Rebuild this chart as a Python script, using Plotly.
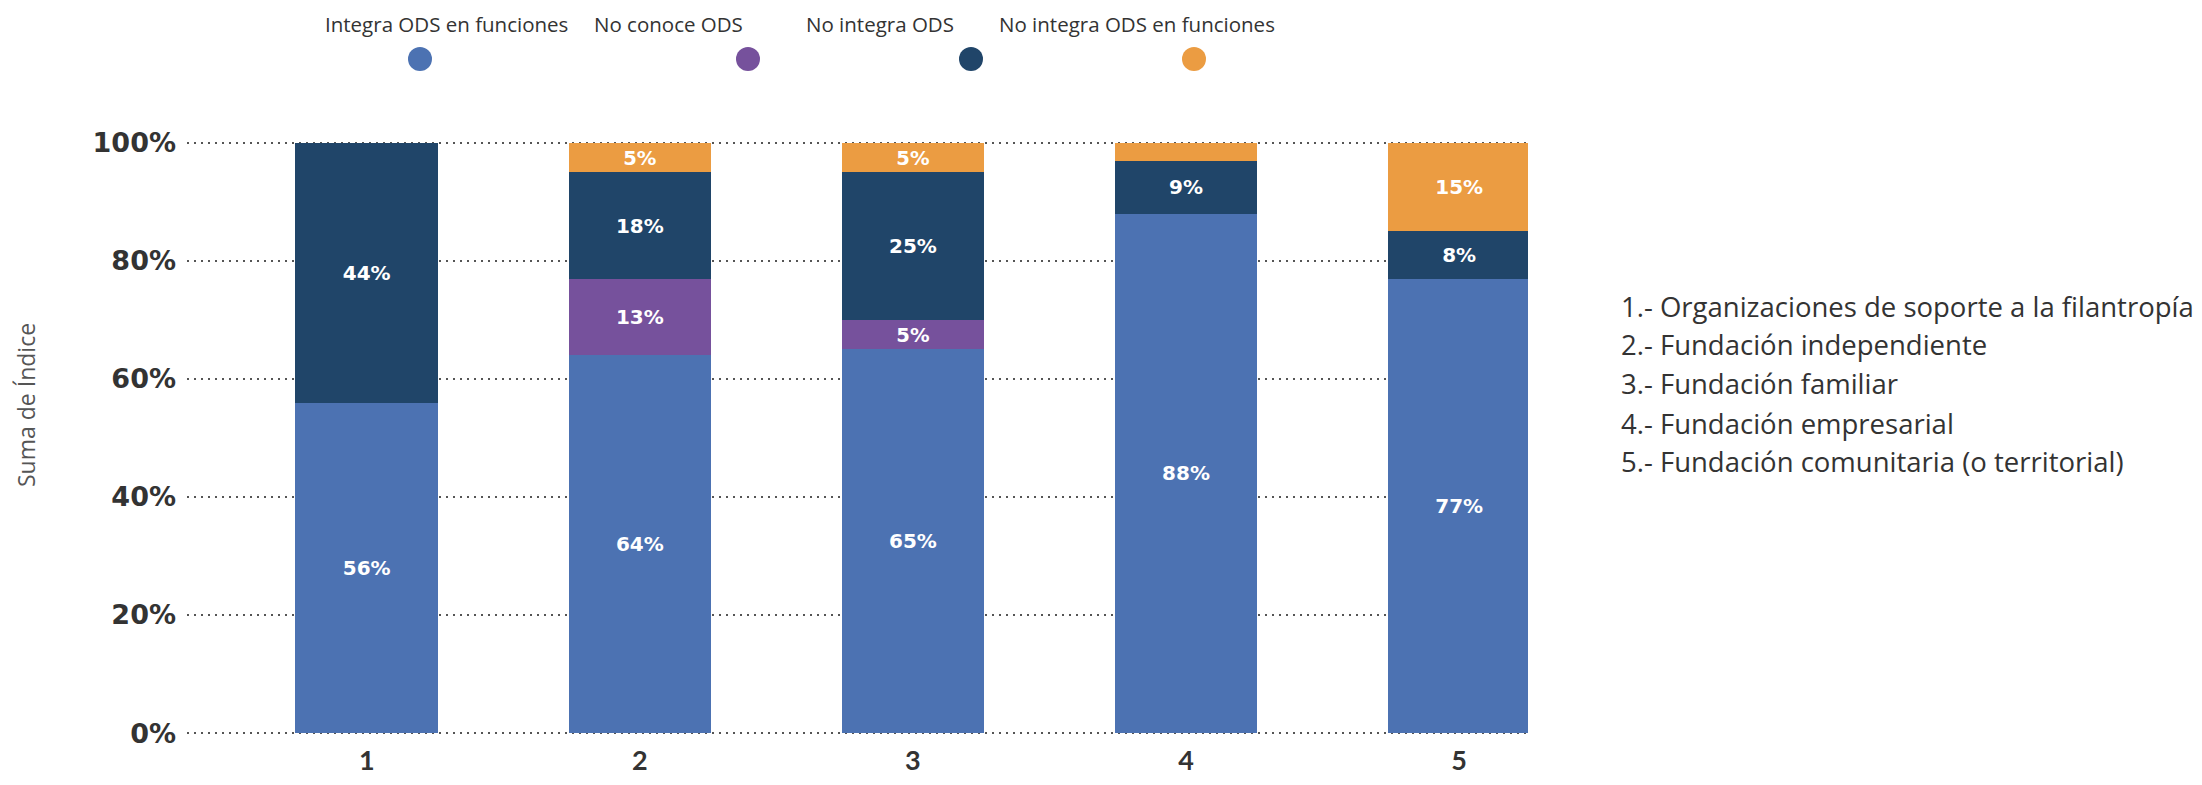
import plotly.graph_objects as go

categories = ["1", "2", "3", "4", "5"]
series_names = ["Integra ODS en funciones", "No conoce ODS", "No integra ODS", "No integra ODS en funciones"]
integra = [56, 64, 65, 88, 77]
no_conoce = [0, 13, 5, 0, 0]
no_integra = [44, 18, 25, 9, 8]
no_integra_func = [0, 5, 5, 3, 15]
series_values = [integra, no_conoce, no_integra, no_integra_func]
colors = ["#4C72B2", "#76519C", "#204569", "#EB9C42"]
y_ticks = [0, 20, 40, 60, 80, 100]
y_tick_labels = ["0%", "20%", "40%", "60%", "80%", "100%"]
category_names = [
    "1.- Organizaciones de soporte a la filantropía",
    "2.- Fundación independiente",
    "3.- Fundación familiar",
    "4.- Fundación empresarial",
    "5.- Fundación comunitaria (o territorial)",
]

OFF = 8  # default page body margin
W, H = 2202 - 2 * OFF, 785 - 2 * OFF
# plot area in page pixels
PL, PR, PT, PB = 187, 1528, 140, 736
L, R, T, B = PL - OFF, W - (PR - OFF), PT - OFF, H - (PB - OFF)
pw, ph = W - L - R, H - T - B


def px(xpage):
    return (xpage - OFF - L) / pw


def py(ypage):
    return (H - B - (ypage - OFF)) / ph


fig = go.Figure()
for name, vals, col in zip(series_names, series_values, colors):
    texts = [f"{v}%" if v >= 5 else "" for v in vals]
    fig.add_trace(go.Bar(
        x=categories, y=vals, name=name, marker=dict(color=col, line=dict(width=0)),
        text=texts, texttemplate="%{text}", textposition="inside",
        insidetextanchor="middle", textangle=0,
        textfont=dict(color="white", size=20, family="DejaVu Sans", weight="bold"),
        showlegend=False,
    ))

fig.update_layout(
    barmode="stack", bargap=0.478,
    width=W, height=H,
    margin=dict(l=L, r=R, t=T, b=B, autoexpand=False),
    paper_bgcolor="white", plot_bgcolor="white",
    xaxis=dict(type="category", range=[-0.658, 4.252], showgrid=False, zeroline=False,
               showline=False, ticks="", ticklabelstandoff=6,
               tickfont=dict(family="Liberation Sans Narrow, Lato", size=27, color="#333333", weight="bold")),
    yaxis=dict(range=[-0.5, 100.5], tickvals=y_ticks, ticktext=y_tick_labels,
               showgrid=True, gridcolor="#555555", griddash="2px,5px", gridwidth=2,
               zeroline=False, showline=False, ticks="", ticklabelstandoff=10,
               tickfont=dict(family="DejaVu Sans", size=27, color="#333333", weight="bold")),
)

# Y axis title
fig.add_annotation(text="Suma de Índice", xref="paper", yref="paper",
                   x=px(26), y=py(405), showarrow=False, textangle=-90,
                   xanchor="center", yanchor="middle",
                   font=dict(family="Open Sans", size=23, color="#555555"))

# Custom legend: text above circle markers
leg_text_x = [446, 668, 880, 1137]
leg_mark_x = [420, 748, 971, 1194]
for name, col, tx, mx in zip(series_names, colors, leg_text_x, leg_mark_x):
    fig.add_annotation(text=name, xref="paper", yref="paper",
                       x=px(tx), y=py(24), showarrow=False,
                       xanchor="center", yanchor="middle",
                       font=dict(family="Open Sans", size=20.5, color="#333333"))
    fig.add_shape(type="circle", xref="paper", yref="paper",
                  xsizemode="pixel", ysizemode="pixel",
                  xanchor=px(mx), yanchor=py(59),
                  x0=-12, x1=12, y0=-12, y1=12,
                  fillcolor=col, line=dict(width=0))

# Category descriptions on the right
line_y = [306, 344, 383, 423, 462]
for txt, ly in zip(category_names, line_y):
    fig.add_annotation(text=txt, xref="paper", yref="paper",
                       x=px(1619), y=py(ly), showarrow=False,
                       xanchor="left", yanchor="middle",
                       font=dict(family="Open Sans", size=27.5, color="#333333"))

fig.write_html("out.html")
